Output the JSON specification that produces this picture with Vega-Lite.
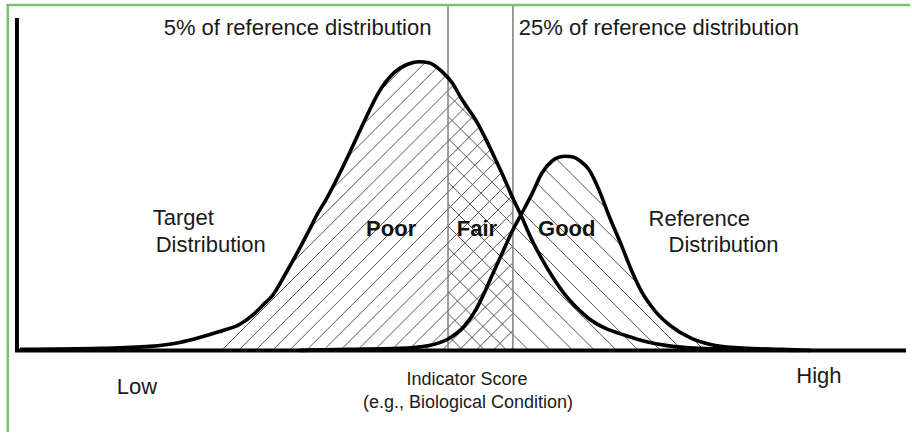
{
  "$schema": "https://vega.github.io/schema/vega-lite/v6.json",
  "width": 912,
  "height": 434,
  "autosize": {"type": "fit", "contains": "padding"},
  "padding": 0,
  "background": "white",
  "config": {"view": {"stroke": null}},
  "datasets": {
    "target": [
      {"s":2.0,"d":0.25},{"s":10.0,"d":0.5},{"s":15.0,"d":1.0},{"s":18.0,"d":2.0},{"s":20.0,"d":3.25},{"s":22.0,"d":4.75},{"s":24.0,"d":6.5},{"s":25.5,"d":9.25},{"s":26.5,"d":11.75},{"s":27.3,"d":13.75},{"s":28.5,"d":18.75},{"s":30.0,"d":25.5},{"s":31.0,"d":30.25},{"s":31.7,"d":33.75},{"s":32.7,"d":38.0},{"s":34.0,"d":44.25},{"s":35.2,"d":50.5},{"s":36.5,"d":57.5},{"s":38.0,"d":65.0},{"s":39.5,"d":69.75},{"s":41.0,"d":72.0},{"s":42.0,"d":72.5},{"s":43.0,"d":72.25},{"s":44.3,"d":70.0},{"s":45.3,"d":67.25},{"s":46.3,"d":63.0},{"s":47.7,"d":57.75},{"s":48.7,"d":53.0},{"s":49.7,"d":47.75},{"s":50.7,"d":42.25},{"s":51.3,"d":38.75},{"s":52.2,"d":34.0},{"s":53.3,"d":27.75},{"s":54.3,"d":23.0},{"s":55.5,"d":18.0},{"s":56.7,"d":13.75},{"s":58.0,"d":10.25},{"s":59.0,"d":8.0},{"s":60.7,"d":5.5},{"s":62.7,"d":3.75},{"s":64.7,"d":2.25},{"s":66.7,"d":1.25},{"s":70.0,"d":0.5},{"s":75.0,"d":0.25},{"s":80.0,"d":0.0}
    ],
    "reference": [
      {"s":30.0,"d":0},{"s":35.0,"d":0.25},{"s":40.0,"d":0.5},{"s":43.0,"d":1.25},{"s":45.0,"d":3.0},{"s":46.5,"d":6.0},{"s":47.7,"d":10.25},{"s":48.5,"d":14.25},{"s":49.3,"d":18.75},{"s":50.3,"d":24.25},{"s":51.3,"d":29.75},{"s":52.2,"d":34.0},{"s":53.3,"d":39.25},{"s":54.3,"d":44.5},{"s":55.3,"d":47.5},{"s":56.0,"d":48.5},{"s":56.7,"d":48.75},{"s":57.5,"d":48.5},{"s":58.3,"d":47.25},{"s":59.0,"d":45.5},{"s":60.0,"d":40.5},{"s":61.0,"d":34.0},{"s":62.3,"d":26.25},{"s":63.3,"d":20.0},{"s":64.3,"d":14.75},{"s":65.7,"d":9.75},{"s":67.3,"d":6.0},{"s":69.3,"d":3.0},{"s":71.7,"d":1.25},{"s":75.0,"d":0.5},{"s":78.3,"d":0.25},{"s":81.2,"d":0}
    ],
    "envelope": [
      {"s":15.0,"d":1.0},{"s":18.0,"d":2.0},{"s":20.0,"d":3.25},{"s":22.0,"d":4.75},{"s":24.0,"d":6.5},{"s":25.5,"d":9.25},{"s":26.5,"d":11.75},{"s":27.3,"d":13.75},{"s":28.5,"d":18.75},{"s":30.0,"d":25.5},{"s":31.0,"d":30.25},{"s":31.7,"d":33.75},{"s":32.7,"d":38.0},{"s":34.0,"d":44.25},{"s":35.2,"d":50.5},{"s":36.5,"d":57.5},{"s":38.0,"d":65.0},{"s":39.5,"d":69.75},{"s":41.0,"d":72.0},{"s":42.0,"d":72.5},{"s":43.0,"d":72.25},{"s":44.3,"d":70.0},{"s":45.3,"d":67.25},{"s":46.3,"d":63.0},{"s":47.7,"d":57.75},{"s":48.7,"d":53.0},{"s":49.7,"d":47.75},{"s":50.7,"d":42.25},{"s":51.3,"d":38.75},{"s":52.2,"d":34.0},
      {"s":53.3,"d":39.25},{"s":54.3,"d":44.5},{"s":55.3,"d":47.5},{"s":56.0,"d":48.5},{"s":56.7,"d":48.75},{"s":57.5,"d":48.5},{"s":58.3,"d":47.25},{"s":59.0,"d":45.5},{"s":60.0,"d":40.5},{"s":61.0,"d":34.0},{"s":62.3,"d":26.25},{"s":63.3,"d":20.0},{"s":64.3,"d":14.75},{"s":65.7,"d":9.75},{"s":67.3,"d":6.0},{"s":69.3,"d":3.0},{"s":71.7,"d":1.25},{"s":75.0,"d":0.5},{"s":78.3,"d":0.25},{"s":81.2,"d":0}
    ],
    "hatch": [
      {"s":22.2,"d":4.25,"s2":50.2,"d2":74.25,"dir":"up"},
      {"s":22.2,"d":8.5,"s2":48.5,"d2":74.25,"dir":"up"},
      {"s":22.2,"d":12.75,"s2":46.8,"d2":74.25,"dir":"up"},
      {"s":22.2,"d":17.0,"s2":45.1,"d2":74.25,"dir":"up"},
      {"s":22.2,"d":21.25,"s2":43.4,"d2":74.25,"dir":"up"},
      {"s":22.2,"d":25.5,"s2":41.7,"d2":74.25,"dir":"up"},
      {"s":22.2,"d":0,"s2":51.4,"d2":73.0,"dir":"up"},
      {"s":23.9,"d":0,"s2":51.4,"d2":68.75,"dir":"up"},
      {"s":25.6,"d":0,"s2":51.4,"d2":64.5,"dir":"up"},
      {"s":27.3,"d":0,"s2":51.4,"d2":60.25,"dir":"up"},
      {"s":29.0,"d":0,"s2":51.4,"d2":56.0,"dir":"up"},
      {"s":30.7,"d":0,"s2":51.4,"d2":51.75,"dir":"up"},
      {"s":32.4,"d":0,"s2":51.4,"d2":47.5,"dir":"up"},
      {"s":34.1,"d":0,"s2":51.4,"d2":43.25,"dir":"up"},
      {"s":35.8,"d":0,"s2":51.4,"d2":39.0,"dir":"up"},
      {"s":37.5,"d":0,"s2":51.4,"d2":34.75,"dir":"up"},
      {"s":39.2,"d":0,"s2":51.4,"d2":30.5,"dir":"up"},
      {"s":40.9,"d":0,"s2":51.4,"d2":26.25,"dir":"up"},
      {"s":42.6,"d":0,"s2":51.4,"d2":22.0,"dir":"up"},
      {"s":44.3,"d":0,"s2":51.4,"d2":17.75,"dir":"up"},
      {"s":46.0,"d":0,"s2":51.4,"d2":13.5,"dir":"up"},
      {"s":47.7,"d":0,"s2":51.4,"d2":9.25,"dir":"up"},
      {"s":49.4,"d":0,"s2":51.4,"d2":5.0,"dir":"up"},
      {"s":51.1,"d":0,"s2":51.4,"d2":0.75,"dir":"up"},
      {"s":77.2,"d":0,"s2":47.5,"d2":74.25,"dir":"down"},
      {"s":75.0,"d":0,"s2":45.3,"d2":74.25,"dir":"down"},
      {"s":72.8,"d":0,"s2":44.9,"d2":69.75,"dir":"down"},
      {"s":70.6,"d":0,"s2":44.9,"d2":64.25,"dir":"down"},
      {"s":68.4,"d":0,"s2":44.9,"d2":58.75,"dir":"down"},
      {"s":66.2,"d":0,"s2":44.9,"d2":53.25,"dir":"down"},
      {"s":64.0,"d":0,"s2":44.9,"d2":47.75,"dir":"down"},
      {"s":61.8,"d":0,"s2":44.9,"d2":42.25,"dir":"down"},
      {"s":59.6,"d":0,"s2":44.9,"d2":36.75,"dir":"down"},
      {"s":57.4,"d":0,"s2":44.9,"d2":31.25,"dir":"down"},
      {"s":55.2,"d":0,"s2":44.9,"d2":25.75,"dir":"down"},
      {"s":53.0,"d":0,"s2":44.9,"d2":20.25,"dir":"down"},
      {"s":50.8,"d":0,"s2":44.9,"d2":14.75,"dir":"down"},
      {"s":48.6,"d":0,"s2":44.9,"d2":9.25,"dir":"down"},
      {"s":46.4,"d":0,"s2":44.9,"d2":3.75,"dir":"down"}
    ],
    "cuts": [
      {"s":44.9,"cut":"5th percentile of reference"},
      {"s":51.4,"cut":"25th percentile of reference"}
    ],
    "frame": [
      {"part":"axes"}
    ],
    "labels": [
      {"text":"5% of reference distribution","s":16.4,"d":79.25,"kind":"normal"},
      {"text":"25% of reference distribution","s":52.0,"d":79.25,"kind":"normal"},
      {"text":"Target","s":15.3,"d":31.5,"kind":"normal"},
      {"text":"Distribution","s":15.6,"d":24.75,"kind":"normal"},
      {"text":"Reference","s":65.0,"d":31.25,"kind":"normal"},
      {"text":"Distribution","s":67.0,"d":24.75,"kind":"normal"},
      {"text":"Low","s":11.7,"d":-11.0,"kind":"normal"},
      {"text":"High","s":79.8,"d":-8.25,"kind":"normal"},
      {"text":"Poor","s":39.2,"d":28.8,"kind":"bold"},
      {"text":"Fair","s":47.8,"d":28.8,"kind":"bold"},
      {"text":"Good","s":56.8,"d":28.8,"kind":"bold"},
      {"text":"Indicator Score","s":46.8,"d":-8.75,"kind":"narrow"},
      {"text":"(e.g., Biological Condition)","s":46.9,"d":-14.5,"kind":"narrow"}
    ]
  },
  "layer": [
    {
      "data": {"name": "hatch"},
      "mark": {"type": "rule", "stroke": "#555555", "strokeWidth": 1},
      "encoding": {
        "x": {"field": "s", "type": "quantitative", "scale": {"domain": [0, 91.2], "nice": false, "zero": false}, "axis": null},
        "y": {"field": "d", "type": "quantitative", "scale": {"domain": [-20.5, 88], "nice": false, "zero": false}, "axis": null},
        "x2": {"field": "s2"},
        "y2": {"field": "d2"}
      }
    },
    {
      "data": {"name": "envelope"},
      "mark": {"type": "area", "fill": "white", "interpolate": "monotone"},
      "encoding": {
        "x": {"field": "s", "type": "quantitative", "scale": {"domain": [0, 91.2], "nice": false, "zero": false}, "axis": null},
        "y": {"field": "d", "type": "quantitative", "scale": {"domain": [-20.5, 88], "nice": false, "zero": false}, "axis": null},
        "y2": {"datum": 75.5}
      }
    },
    {
      "data": {"name": "cuts"},
      "mark": {"type": "rule", "stroke": "#7f7f7f", "strokeWidth": 1.5},
      "encoding": {
        "x": {"field": "s", "type": "quantitative", "scale": {"domain": [0, 91.2], "nice": false, "zero": false}, "axis": null},
        "y": {"datum": 0, "scale": {"domain": [-20.5, 88], "nice": false, "zero": false}, "axis": null},
        "y2": {"datum": 86.5}
      }
    },
    {
      "data": {"name": "target"},
      "mark": {"type": "line", "stroke": "black", "strokeWidth": 3.6, "interpolate": "monotone", "strokeJoin": "round"},
      "encoding": {
        "x": {"field": "s", "type": "quantitative", "scale": {"domain": [0, 91.2], "nice": false, "zero": false}, "axis": null},
        "y": {"field": "d", "type": "quantitative", "scale": {"domain": [-20.5, 88], "nice": false, "zero": false}, "axis": null}
      }
    },
    {
      "data": {"name": "reference"},
      "mark": {"type": "line", "stroke": "black", "strokeWidth": 3.6, "interpolate": "monotone", "strokeJoin": "round"},
      "encoding": {
        "x": {"field": "s", "type": "quantitative", "scale": {"domain": [0, 91.2], "nice": false, "zero": false}, "axis": null},
        "y": {"field": "d", "type": "quantitative", "scale": {"domain": [-20.5, 88], "nice": false, "zero": false}, "axis": null}
      }
    },
    {
      "data": {"name": "frame"},
      "mark": {"type": "rule", "stroke": "black", "strokeWidth": 4},
      "encoding": {
        "x": {"datum": 1.7, "scale": {"domain": [0, 91.2], "nice": false, "zero": false}, "axis": null},
        "y": {"datum": -0.4, "scale": {"domain": [-20.5, 88], "nice": false, "zero": false}, "axis": null},
        "y2": {"datum": 83.5}
      }
    },
    {
      "data": {"name": "frame"},
      "mark": {"type": "rule", "stroke": "black", "strokeWidth": 4},
      "encoding": {
        "x": {"datum": 1.5, "scale": {"domain": [0, 91.2], "nice": false, "zero": false}, "axis": null},
        "x2": {"datum": 90.8},
        "y": {"datum": 0, "scale": {"domain": [-20.5, 88], "nice": false, "zero": false}, "axis": null}
      }
    },
    {
      "data": {"name": "frame"},
      "mark": {"type": "rule", "stroke": "#77c16f", "strokeWidth": 2.5},
      "encoding": {
        "x": {"datum": 0.68, "scale": {"domain": [0, 91.2], "nice": false, "zero": false}, "axis": null},
        "x2": {"datum": 91.2},
        "y": {"datum": 86.75, "scale": {"domain": [-20.5, 88], "nice": false, "zero": false}, "axis": null}
      }
    },
    {
      "data": {"name": "frame"},
      "mark": {"type": "rule", "stroke": "#77c16f", "strokeWidth": 2.5},
      "encoding": {
        "x": {"datum": 0.78, "scale": {"domain": [0, 91.2], "nice": false, "zero": false}, "axis": null},
        "y": {"datum": -20.5, "scale": {"domain": [-20.5, 88], "nice": false, "zero": false}, "axis": null},
        "y2": {"datum": 87.0}
      }
    },
    {
      "data": {"name": "labels"},
      "transform": [{"filter": "datum.kind === 'normal'"}],
      "mark": {"type": "text", "font": "Liberation Sans, Arial, sans-serif", "fontSize": 22, "align": "left", "baseline": "alphabetic", "fill": "#1a1a1a"},
      "encoding": {
        "x": {"field": "s", "type": "quantitative", "scale": {"domain": [0, 91.2], "nice": false, "zero": false}, "axis": null},
        "y": {"field": "d", "type": "quantitative", "scale": {"domain": [-20.5, 88], "nice": false, "zero": false}, "axis": null},
        "text": {"field": "text"}
      }
    },
    {
      "data": {"name": "labels"},
      "transform": [{"filter": "datum.kind === 'bold'"}],
      "mark": {"type": "text", "font": "Liberation Sans, Arial, sans-serif", "fontSize": 22, "fontWeight": "bold", "align": "center", "baseline": "alphabetic", "fill": "#111111"},
      "encoding": {
        "x": {"field": "s", "type": "quantitative", "scale": {"domain": [0, 91.2], "nice": false, "zero": false}, "axis": null},
        "y": {"field": "d", "type": "quantitative", "scale": {"domain": [-20.5, 88], "nice": false, "zero": false}, "axis": null},
        "text": {"field": "text"}
      }
    },
    {
      "data": {"name": "labels"},
      "transform": [{"filter": "datum.kind === 'narrow'"}],
      "mark": {"type": "text", "font": "Liberation Sans, Arial, sans-serif", "fontSize": 18, "align": "center", "baseline": "alphabetic", "fill": "#1a1a1a"},
      "encoding": {
        "x": {"field": "s", "type": "quantitative", "scale": {"domain": [0, 91.2], "nice": false, "zero": false}, "axis": null},
        "y": {"field": "d", "type": "quantitative", "scale": {"domain": [-20.5, 88], "nice": false, "zero": false}, "axis": null},
        "text": {"field": "text"}
      }
    }
  ]
}
